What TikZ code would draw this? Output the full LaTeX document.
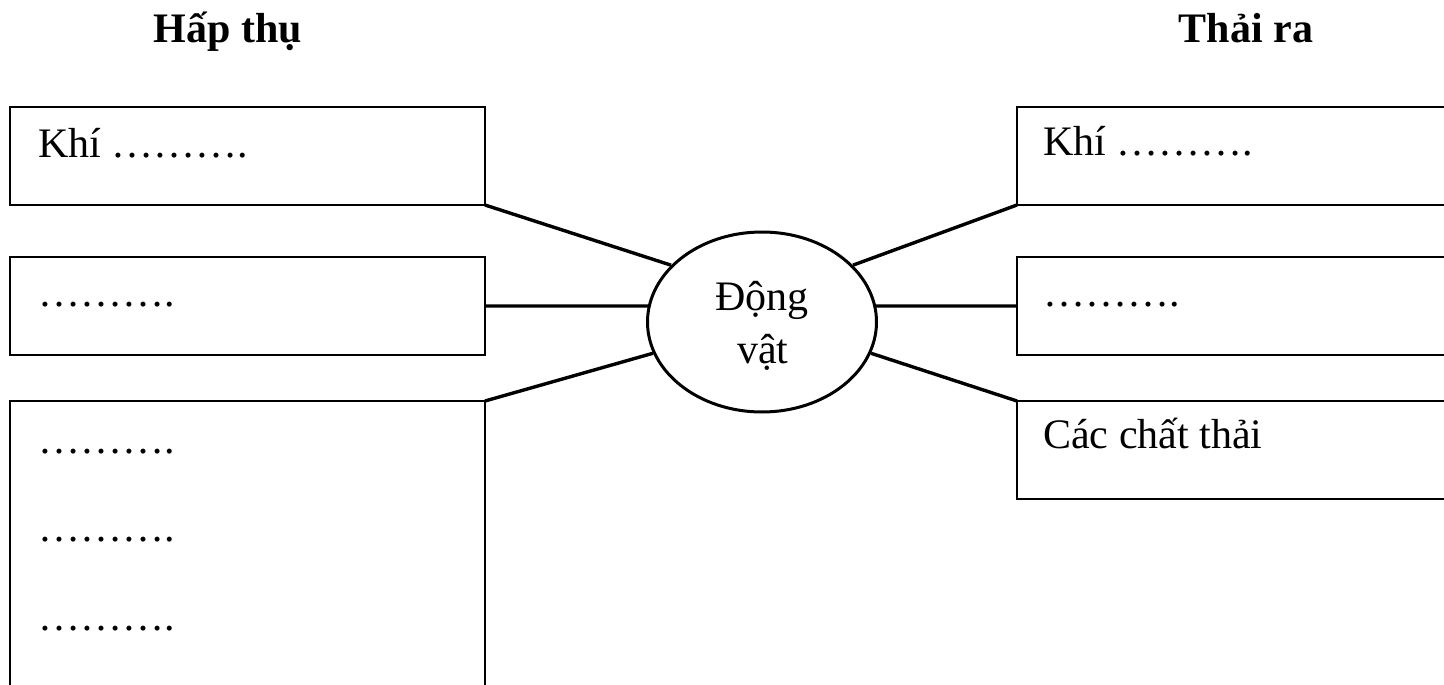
\documentclass[tikz,border=0pt]{standalone}
\usepackage{fontspec}
\setmainfont{Liberation Serif}
\usetikzlibrary{shapes.geometric}
\begin{document}
\begin{tikzpicture}[x=1pt,y=-1pt,
 box/.style={draw, line width=2pt, rectangle, inner sep=0pt, outer sep=0pt, anchor=north west},
 lbl/.style={anchor=base west, inner sep=0pt, font=\fontsize{42}{53}\selectfont},
 head/.style={anchor=base, inner sep=0pt, font=\fontsize{42}{53}\selectfont\bfseries},
 link/.style={line width=3.4pt}]
\fill[white] (0,0) rectangle (1444,685);
\useasboundingbox (0,0) rectangle (1444,685);
% headings
\node[head] (h1) at (228,43) {Hấp thụ};
\node[head] (h2) at (1246,43) {Thải ra};
% left boxes
\node[box, minimum width=475pt, minimum height=98pt] (lb1) at (10,107) {};
\node[box, minimum width=475pt, minimum height=98pt] (lb2) at (10,257) {};
\node[box, minimum width=475pt, minimum height=330pt] (lb3) at (10,401) {};
% right boxes
\node[box, minimum width=460pt, minimum height=98pt] (rb1) at (1017,107) {};
\node[box, minimum width=460pt, minimum height=98pt] (rb2) at (1017,257) {};
\node[box, minimum width=460pt, minimum height=98pt] (rb3) at (1017,401) {};
% texts
\node[lbl] (t1) at (38,157) {Khí ……….};
\node[lbl] (t2) at (38,306) {……….};
\node[lbl] (t3) at (38,453) {……….};
\node[lbl] (t4) at (38,541) {……….};
\node[lbl] (t5) at (38,630) {……….};
\node[lbl] (t6) at (1043,155) {Khí ……….};
\node[lbl] (t7) at (1043,306) {……….};
\node[lbl] (t8) at (1043,448) {Các chất thải};
% centre
\node[ellipse, draw, line width=3pt, fill=white, minimum width=229pt, minimum height=180pt,
      inner sep=0pt] (ev) at (762,322) {};
\node[anchor=base, inner sep=0pt, font=\fontsize{42}{53}\selectfont] (ev1) at (762,310) {Động};
\node[anchor=base, inner sep=0pt, font=\fontsize{42}{53}\selectfont] (ev2) at (763,363) {vật};
% connectors
\draw[link] (lb1.south east) -- (ev.148);
\draw[link] (lb2.east) -- (ev.172);
\draw[link] (lb3.north east) -- (ev.196);
\draw[link] (rb1.south west) -- (ev.32);
\draw[link] (rb2.west) -- (ev.8);
\draw[link] (rb3.north west) -- (ev.344);
\end{tikzpicture}
\end{document}
